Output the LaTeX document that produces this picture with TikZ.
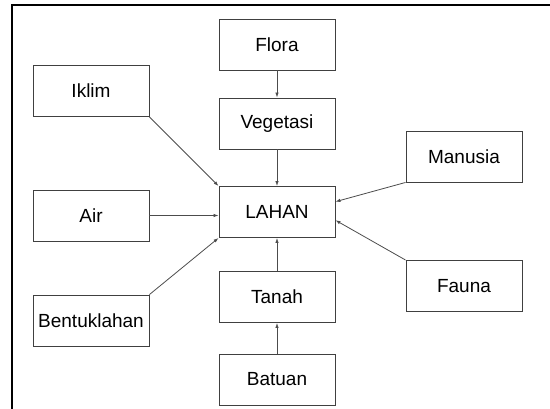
\documentclass[tikz,border=0pt]{standalone}
\usepackage{fontspec}
\setmainfont{Liberation Sans}
\usepackage{xcolor}
\usetikzlibrary{shapes,arrows,positioning,arrows.meta}

\begin{document}
\begin{tikzpicture}[x=1pt,y=-1pt,
    caja/.style={draw=black!75,line width=0.9pt,minimum width=116pt,minimum height=51pt,
        inner sep=0pt,font=\fontsize{19}{22}\selectfont},
    flecha/.style={draw=black!70,line width=0.8pt,-{Latex[length=5pt,width=3.5pt]}}]
        % Marco del dibujo
        \useasboundingbox (0,0) rectangle (550,409);
        \draw[line width=2pt] (12,409) -- (12,5) -- (550,5);
        % Cajas de la columna central
        \node[caja] (flora) at (277,44.5) {Flora};
        \node[caja] (vegetasi) at (277,123.5) {Vegetasi};
        \node[caja] (lahan) at (277,212) {LAHAN};
        \node[caja] (tanah) at (277,297) {Tanah};
        \node[caja] (batuan) at (277,379.5) {Batuan};
        % Cajas de los lados
        \node[caja] (iklim) at (91,91) {Iklim};
        \node[caja] (air) at (91,215.5) {Air};
        \node[caja] (bentuk) at (91,320.5) {Bentuklahan};
        \node[caja] (manusia) at (464,156.5) {Manusia};
        \node[caja] (fauna) at (464,286) {Fauna};
        % Flechas hacia LAHAN
        \draw[flecha] (flora) -- (vegetasi);
        \draw[flecha] (vegetasi) -- (lahan);
        \draw[flecha] (batuan) -- (tanah);
        \draw[flecha] (tanah) -- (lahan);
        \draw[flecha] (iklim.south east) -- (lahan.north west);
        \draw[flecha] (air.east) -- (air.east -| lahan.west);
        \draw[flecha] (bentuk.north east) -- (lahan.south west);
        \draw[flecha] (manusia.south west) -- (lahan.10);
        \draw[flecha] (fauna.north west) -- (lahan.-8);
    \end{tikzpicture}
\end{document}
